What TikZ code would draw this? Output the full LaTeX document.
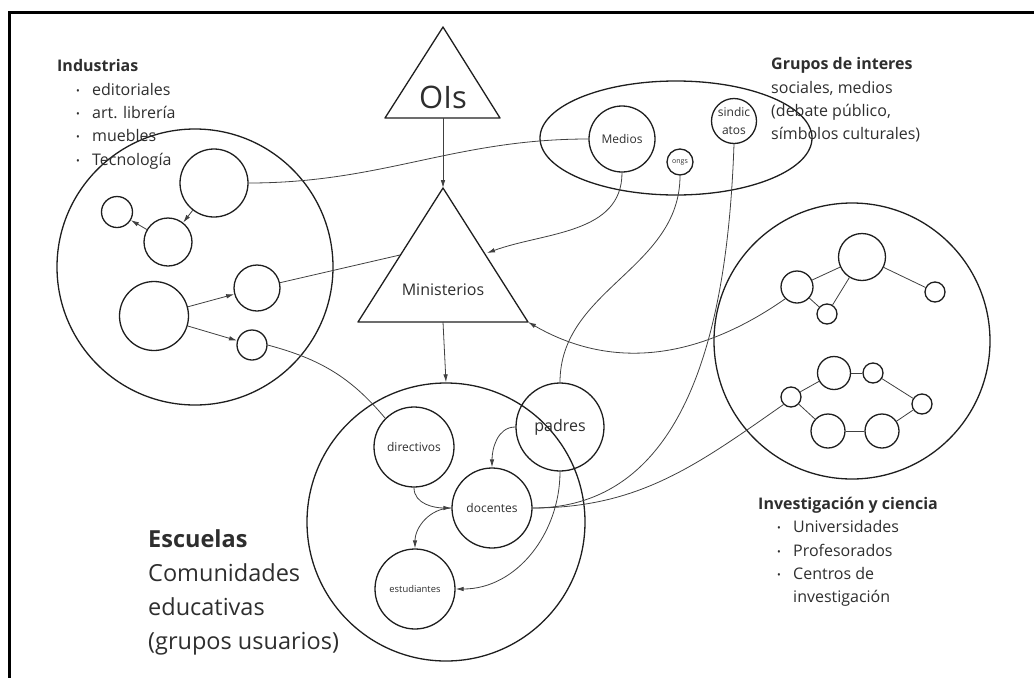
\documentclass[tikz,border=0pt]{standalone}
\usepackage{fontspec}
\setmainfont{Open Sans}
\usepackage{tikz}
\usetikzlibrary{arrows.meta,shapes.geometric}
\definecolor{Tinta}{HTML}{2E2E2E}
\definecolor{Trazo}{HTML}{1E1E1E}
\definecolor{Enlace}{HTML}{404040}
\tikzset{
  grupo/.style={circle, draw=Trazo, line width=1.3pt, inner sep=0pt, text=Tinta, align=center},
  forma/.style={draw=Trazo, line width=1.3pt, line join=round},
  enlace/.style={draw=Enlace, line width=0.8pt},
  flecha/.style={-{Latex[length=8pt, width=4.5pt]}, draw=Enlace, line width=0.8pt},
  rotulo/.style={text=Tinta, align=left, inner sep=0pt, anchor=north west},
  marco/.style={draw=black, line width=3pt}
}
\newcommand{\vineta}{\hspace*{19pt}\makebox[16pt][l]{\raisebox{1pt}{\fontsize{10}{10}\selectfont\textbullet}}}
\newcommand{\sangria}{\hspace*{35pt}}

\begin{document}
\begin{tikzpicture}[x=1pt, y=-1pt, font=\fontsize{16}{23.3}\selectfont]
  \useasboundingbox (0,0) rectangle (1034,678);
  \draw[marco] (1034,12) -- (9,12) -- (9,678);

  \coordinate (oisTop) at (443,27);
  \coordinate (oisIzq) at (385,118);
  \coordinate (oisDer) at (500,118);
  \coordinate (oisBase) at (443,118);
  \draw[forma] (oisTop) -- (oisDer) -- (oisIzq) -- cycle;
  \node[text=Tinta, font=\fontsize{31}{31}\selectfont] (ois) at (443,97) {OIs};

  \coordinate (minTop) at (443,188);
  \coordinate (minIzq) at (358,322);
  \coordinate (minDer) at (528,322);
  \coordinate (minBase) at (443,322);
  \coordinate (minLadoIzq) at (400,255);
  \coordinate (minLadoDer) at (487,253);
  \draw[forma] (minTop) -- (minDer) -- (minIzq) -- cycle;
  \node[text=Tinta] (ministerios) at (443,290) {Ministerios};

  \node[grupo, minimum size=276pt] (industrias) at (195,267) {};
  \node[grupo, minimum size=68pt] (indA) at (214,183) {};
  \node[grupo, minimum size=31pt] (indB) at (117,212) {};
  \node[grupo, minimum size=48pt] (indC) at (168,242) {};
  \node[grupo, minimum size=46pt] (indD) at (257,288) {};
  \node[grupo, minimum size=69pt] (indE) at (154,316) {};
  \node[grupo, minimum size=30pt] (indF) at (252,345) {};

  \node[grupo, ellipse, minimum width=272pt, minimum height=114pt] (intereses) at (676,138) {};
  \node[grupo, minimum size=66pt, font=\fontsize{12}{12}\selectfont] (medios) at (622,139) {Medios};
  \node[grupo, minimum size=26pt, font=\fontsize{7}{7}\selectfont] (ongs) at (680,162) {ongs};
  \node[grupo, minimum size=45pt, font=\fontsize{12}{18}\selectfont] (sindicatos) at (734,121) {sindic\\atos};

  \node[grupo, minimum size=278pt] (escuelas) at (446,522) {};
  \node[grupo, minimum size=80pt, font=\fontsize{12}{12}\selectfont] (directivos) at (414,447) {directivos};
  \node[grupo, minimum size=80pt, font=\fontsize{12}{12}\selectfont] (docentes) at (492,508) {docentes};
  \node[grupo, minimum size=80pt, font=\fontsize{9.4}{9.4}\selectfont] (estudiantes) at (415,589) {estudiantes};
  \node[grupo, minimum size=88pt] (padres) at (560,427) {padres};

  \node[grupo, minimum size=276pt] (investigacion) at (852,341) {};
  \node[grupo, minimum size=32pt] (invU1) at (797,287) {};
  \node[grupo, minimum size=47pt] (invU2) at (862,257) {};
  \node[grupo, minimum size=20pt] (invU3) at (827,314) {};
  \node[grupo, minimum size=20pt] (invU4) at (935,292) {};
  \node[grupo, minimum size=20pt] (invL1) at (791,397) {};
  \node[grupo, minimum size=33pt] (invL2) at (834,373) {};
  \node[grupo, minimum size=20pt] (invL3) at (873,373) {};
  \node[grupo, minimum size=20pt] (invL4) at (922,404) {};
  \node[grupo, minimum size=34pt] (invL5) at (828,431) {};
  \node[grupo, minimum size=34pt] (invL6) at (882,431) {};

  \node[rotulo] (txtIndustrias) at (57,59.5) {\textbf{Industrias}\\
    \vineta editoriales\\ \vineta art. librería\\ \vineta muebles\\ \vineta Tecnología};
  \node[rotulo] (txtIntereses) at (771,57.5) {\textbf{Grupos de interes}\\
    sociales, medios\\ (debate público,\\ símbolos culturales)};
  \node[rotulo] (txtInvestigacion) at (758,497) {\textbf{Investigación y ciencia}\\
    \vineta Universidades\\ \vineta Profesorados\\ \vineta Centros de\\ \sangria investigación};
  \node[rotulo, font=\fontsize{23.5}{34}\selectfont] (txtEscuelas) at (148,529.5) {\textbf{Escuelas}\\
    Comunidades\\ educativas\\ (grupos usuarios)};

  \draw[flecha] (oisBase) -- (minTop);
  \draw[flecha] (minBase) -- (escuelas.north);

  \draw[flecha] (indA) -- (indC);
  \draw[flecha] (indC) -- (indB);
  \draw[flecha] (indE) -- (indD);
  \draw[flecha] (indE) -- (indF);
  \draw[enlace] (indD) -- (minLadoIzq);
  \draw[enlace] (indA.east) to[out=0, in=180] (medios.west);
  \draw[enlace] (indF.east) to[out=-15, in=130] (directivos.north west);

  \draw[flecha] (medios.south) to[out=-90, in=20] (minLadoDer);
  \draw[enlace] (ongs.south) to[out=-90, in=90] (padres.north);
  \draw[enlace] (sindicatos.south) to[out=-92, in=0] (docentes.east);
  \draw[flecha] (invU1.south west) to[out=215, in=-30] (minDer);
  \draw[enlace] (docentes.east) to[out=0, in=215] (invL1.south west);

  \draw[flecha] (padres.west) to[out=180, in=90] (docentes.north);
  \draw[flecha] (padres.south) to[out=-90, in=0] (estudiantes.east);
  \draw[flecha] (directivos.south) to[out=-90, in=180] (docentes.west);
  \draw[flecha] (docentes.west) to[out=180, in=90] (estudiantes.north);

  \draw[enlace] (invU1) -- (invU2);
  \draw[enlace] (invU1) -- (invU3);
  \draw[enlace] (invU2) -- (invU3);
  \draw[enlace] (invU2) -- (invU4);
  \draw[enlace] (invL1) -- (invL2);
  \draw[enlace] (invL2) -- (invL3);
  \draw[enlace] (invL3) -- (invL4);
  \draw[enlace] (invL1) -- (invL5);
  \draw[enlace] (invL5) -- (invL6);
  \draw[enlace] (invL6) -- (invL4);
\end{tikzpicture}
\end{document}
